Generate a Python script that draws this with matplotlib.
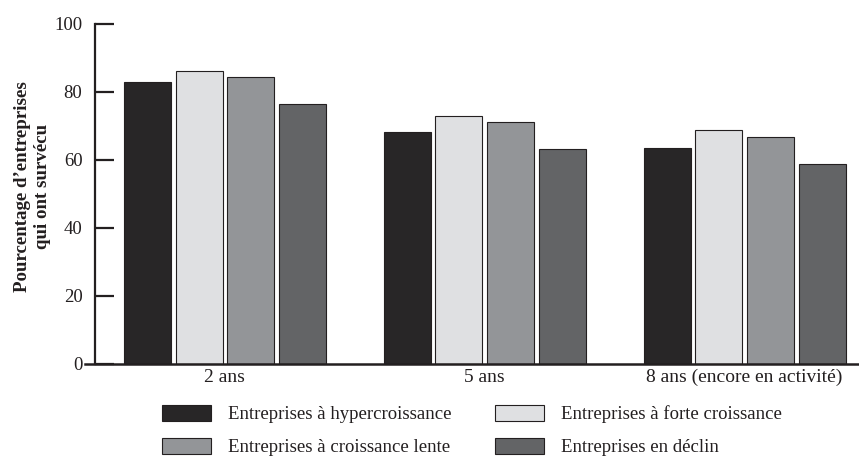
import matplotlib
matplotlib.use("Agg")
import matplotlib.pyplot as plt
import numpy as np

# Survival rates (%) by time horizon and company growth profile
periods = ["2 ans", "5 ans", "8 ans (encore en activité)"]
series_names = [
    "Entreprises à hypercroissance",
    "Entreprises à forte croissance",
    "Entreprises à croissance lente",
    "Entreprises en déclin",
]
hyper = [83.0, 68.1, 63.6]
forte = [86.2, 73.0, 68.9]
lente = [84.5, 71.3, 66.9]
declin = [76.6, 63.1, 58.9]
y_ticks = [0, 20, 40, 60, 80, 100]

colors = ["#282627", "#dfe0e2", "#939598", "#636466"]
edge = "#231f20"
ink = "#231f20"

plt.rcParams["font.family"] = ["Liberation Serif", "DejaVu Serif"]

fig = plt.figure(figsize=(8.59, 4.57), dpi=100)
ax = fig.add_axes([95 / 859, 93 / 457, 764 / 859, 340 / 457])

x = np.arange(len(periods))
width = 0.181
step = 0.199
handles = []
for i, (vals, name) in enumerate(zip([hyper, forte, lente, declin], series_names)):
    offs = (i - 1.5) * step
    b = ax.bar(x + offs, vals, width, color=colors[i], edgecolor=edge,
               linewidth=0.8, label=name, zorder=2)
    handles.append(b)

ax.set_xlim(-0.5, 2.44)
ax.set_ylim(0, 100)

for s in ["top", "right", "bottom"]:
    ax.spines[s].set_visible(False)
ax.spines["left"].set_linewidth(1.6)
ax.spines["left"].set_color(ink)

# baseline running slightly past the vertical axis
ax.plot([-0.013, 1.0], [0, 0], transform=ax.transAxes, color=ink,
        linewidth=1.8, clip_on=False, zorder=3)

ax.set_yticks(y_ticks)
ax.set_yticklabels([str(t) for t in y_ticks])
ax.tick_params(axis="y", direction="in", length=13.5, width=1.6, color=ink,
               pad=9, labelsize=13.5, labelcolor=ink)
ax.set_xticks(x)
ax.set_xticklabels(periods)
ax.tick_params(axis="x", length=0, pad=3.5, labelsize=14, labelcolor=ink)

ax.set_ylabel("Pourcentage d’entreprises\nqui ont survécu", fontsize=13.6,
              fontweight="bold", color=ink, linespacing=1.2)
ax.yaxis.set_label_coords(-0.058, 0.523)

# Legend laid out as two columns of two entries
leg_kw = dict(frameon=False, fontsize=13.5, handlelength=2.61, handleheight=0.9,
              handletextpad=0.92, labelspacing=0.8, borderpad=0,
              borderaxespad=0, loc="upper left")
l1 = fig.legend([handles[0], handles[2]], [series_names[0], series_names[2]],
                bbox_to_anchor=(161.7 / 859, 1 - 405 / 457), **leg_kw)
for t in l1.get_texts():
    t.set_color(ink)
l2 = fig.legend([handles[1], handles[3]], [series_names[1], series_names[3]],
                bbox_to_anchor=(495 / 859, 1 - 405 / 457), **leg_kw)
for t in l2.get_texts():
    t.set_color(ink)

fig.savefig("out.png", dpi=100)
